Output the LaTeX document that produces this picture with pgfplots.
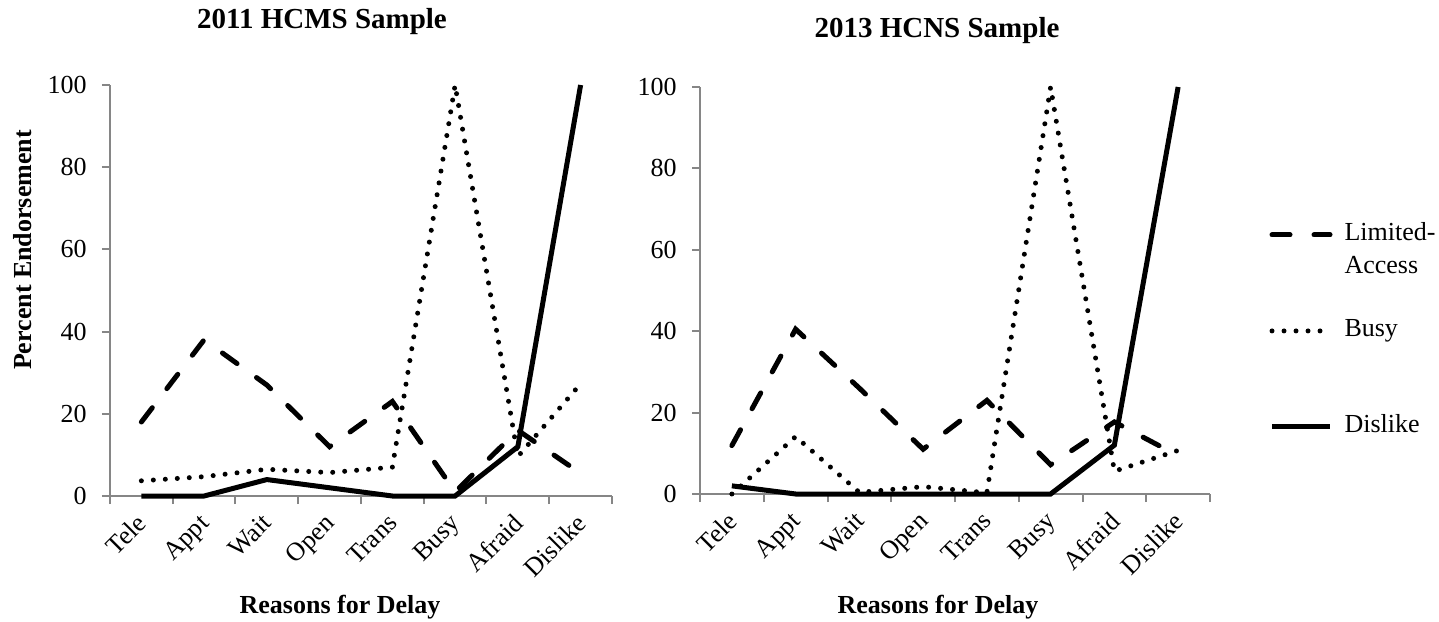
\documentclass[border=0pt]{standalone}
\usepackage{fontspec}
\setmainfont{Liberation Serif}
\usepackage{pgfplots}
\usepackage{pgfplotstable}
\pgfplotsset{compat=1.18}

\definecolor{axisgray}{RGB}{134,134,134}
\newcommand\tickfont{\fontsize{13}{16.5}\selectfont}
\newcommand\labelfont{\fontsize{13}{16}\selectfont\bfseries}
\newcommand\titlefont{\fontsize{14.5}{17}\selectfont\bfseries}

% 2011 HCMS sample: percent endorsement of each reason, by class
\pgfplotstableread{
idx limited busy dislike
0 18   3.7  0
1 38   4.7  0
2 27   6.5  4
3 12   5.7  2
4 23   7    0
5 1    100  0
6 16   9.6  12
7 5.5  27.3 100
}\hcms

% 2013 HCNS sample
\pgfplotstableread{
idx limited busy dislike
0 11.9 0    2
1 40.5 14.1 0
2 26   0.4  0
3 11   1.8  0
4 23   0.3  0
5 7.2  100  0
6 17.7 5.6  12
7 9.4  10.7 100
}\hcns

\pgfplotsset{
  limited/.style={black, line width=2.5pt, line cap=round, dash pattern=on 9pt off 12pt},
  busy/.style={black, line width=2.5pt, line cap=round, dash pattern=on 0pt off 6pt},
  dislike/.style={black, line width=2.5pt, solid},
  panel/.style={
    scale only axis, clip=false,
    xmin=-0.5, xmax=7.5, ymin=0, ymax=100,
    axis x line*=bottom, axis y line*=left,
    axis line style={draw=axisgray, line width=1pt},
    tick align=outside, major tick length=4pt,
    tick style={draw=axisgray, line width=1pt},
    % category boundaries carry the tick marks, names sit between them
    xtick={-0.5,0.5,...,7.5}, xticklabels={},
    extra x ticks={0,1,...,7},
    extra x tick labels={Tele,Appt,Wait,Open,Trans,Busy,Afraid,Dislike},
    extra x tick style={major tick length=0pt,
      xticklabel style={yshift=-8pt, xshift=-3pt, rotate=45, anchor=north east, inner sep=0pt}},
    ytick={0,20,...,100},
    yticklabel style={inner sep=0pt, xshift=-7.5pt},
    tick label style={font=\tickfont},
    /pgf/number format/assume math mode=true,
  },
}

\begin{document}
\begin{tikzpicture}
\useasboundingbox (0,0) rectangle (719.5pt,310.5pt);

\begin{axis}[panel, at={(55pt,62.5pt)}, width=251pt, height=205.5pt]
\addplot[limited] table[x=idx,y=limited]{\hcms};
\addplot[busy]    table[x=idx,y=busy]{\hcms};
\addplot[dislike] table[x=idx,y=dislike]{\hcms};
\end{axis}

\begin{axis}[panel, at={(350pt,63.5pt)}, width=255pt, height=203.5pt,
  legend cell align=left,
  legend image code/.code={\draw[#1] (0pt,0pt) -- (29pt,0pt);},
  legend style={at={(1.1167,0.666)}, anchor=north west, draw=none, fill=none,
    inner sep=0pt, outer sep=0pt, row sep=36pt, column sep=6pt, font=\tickfont,
    nodes={inner sep=0pt, text height=9pt, text depth=3pt}}]
\addplot[limited] table[x=idx,y=limited]{\hcns};
\addlegendentry{\begin{tabular}[t]{@{}l@{}}Limited-\\Access\end{tabular}}
\addplot[busy]    table[x=idx,y=busy]{\hcns};
\addlegendentry{Busy}
\addplot[dislike] table[x=idx,y=dislike]{\hcns};
\addlegendentry{Dislike}
\end{axis}

\node[font=\titlefont] at (161pt,299.5pt) {2011 HCMS Sample};
\node[font=\titlefont] at (468.5pt,295pt) {2013 HCNS Sample};
\node[font=\labelfont, rotate=90] at (11.5pt,185.5pt) {Percent Endorsement};
\node[font=\labelfont, anchor=base] at (170pt,4pt) {Reasons for Delay};
\node[font=\labelfont, anchor=base] at (469pt,4pt) {Reasons for Delay};
\end{tikzpicture}
\end{document}
